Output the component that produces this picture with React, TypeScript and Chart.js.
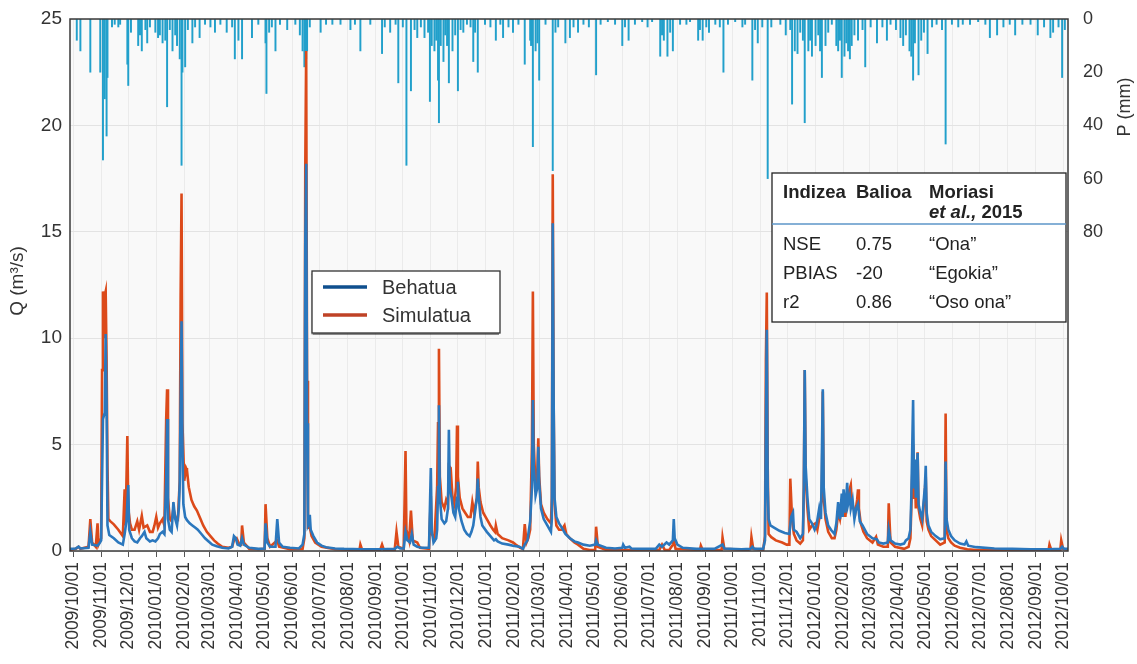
import React, { useEffect, useRef } from "react";
import { Chart, registerables } from "chart.js";

Chart.register(...registerables);

// ---- DATA (day index counted from 2009-10-01) ----
const monthLabels = [
  "2009/10/01", "2009/11/01", "2009/12/01",
  "2010/01/01", "2010/02/01", "2010/03/01", "2010/04/01", "2010/05/01", "2010/06/01",
  "2010/07/01", "2010/08/01", "2010/09/01", "2010/10/01", "2010/11/01", "2010/12/01",
  "2011/01/01", "2011/02/01", "2011/03/01", "2011/04/01", "2011/05/01", "2011/06/01",
  "2011/07/01", "2011/08/01", "2011/09/01", "2011/10/01", "2011/11/01", "2011/12/01",
  "2012/01/01", "2012/02/01", "2012/03/01", "2012/04/01", "2012/05/01", "2012/06/01",
  "2012/07/01", "2012/08/01", "2012/09/01", "2012/10/01",
];

const qTicks = [0, 5, 10, 15, 20, 25];
const pTicks = [0, 20, 40, 60, 80];

// Observed discharge (Behatua), [day, m3/s]
const observedQ: [number, number][] = [
  [-4, 0.1], [3, 0.12], [6, 0.2], [8, 0.12], [17, 0.15], [19, 0.9], [21, 0.3], [27, 0.25], [29, 0.35], [31, 0.5],
  [33, 6.2], [35, 6.5], [36, 10.2], [37, 7.2], [38, 1.2], [40, 0.75], [45, 0.6], [50, 0.4], [55, 0.3], [57, 0.8],
  [59, 1.4], [61, 3.1], [62, 1.0], [65, 0.6], [68, 0.45], [71, 0.4], [74, 0.6], [76, 0.7], [79, 0.9], [81, 0.6],
  [85, 0.45], [88, 0.5], [91, 0.45], [94, 0.6], [96, 0.8], [99, 0.9], [101, 0.8], [103, 3.3], [104, 6.2], [105, 1.5],
  [107, 1.0], [109, 0.9], [111, 2.3], [113, 1.5], [115, 1.2], [117, 2.0], [118, 3.2], [120, 10.8], [121, 5.0], [122, 2.2],
  [124, 1.6], [126, 1.45], [129, 1.3], [132, 1.2], [135, 1.1], [138, 1.0], [142, 0.8], [146, 0.6], [150, 0.45], [154, 0.3],
  [159, 0.22], [165, 0.15], [172, 0.12], [176, 0.2], [178, 0.7], [180, 0.6], [182, 0.3], [185, 0.25], [187, 0.6], [189, 0.3],
  [195, 0.15], [205, 0.1], [212, 0.12], [213, 1.3], [215, 0.4], [218, 0.2], [224, 0.2], [226, 1.5], [228, 0.4], [232, 0.2],
  [240, 0.15], [250, 0.12], [254, 0.3], [256, 0.8], [257, 14.5], [258, 18.2], [259, 6.0], [260, 1.2], [261, 1.3], [262, 1.7],
  [263, 1.0], [266, 0.7], [270, 0.4], [275, 0.25], [280, 0.18], [290, 0.12], [300, 0.1], [320, 0.08], [340, 0.08], [356, 0.1],
  [359, 0.2], [362, 0.12], [366, 0.12], [368, 0.9], [370, 0.5], [373, 0.4], [375, 0.8], [377, 0.3], [381, 0.2], [386, 0.15],
  [394, 0.15], [396, 3.9], [397, 1.0], [399, 0.4], [402, 0.6], [403, 1.0], [404, 3.0], [405, 6.85], [406, 2.5], [408, 1.5],
  [411, 1.3], [413, 1.4], [415, 2.0], [416, 5.7], [417, 3.0], [419, 2.5], [421, 1.8], [423, 1.6], [425, 2.5], [426, 3.25],
  [427, 2.0], [430, 1.4], [433, 1.0], [436, 0.8], [439, 0.7], [441, 0.9], [443, 1.2], [447, 2.5], [448, 3.4], [449, 2.6],
  [451, 1.6], [453, 1.2], [458, 0.9], [462, 0.7], [466, 0.5], [468, 0.55], [470, 0.45], [475, 0.35], [482, 0.3], [487, 0.25],
  [494, 0.2], [498, 0.1], [500, 0.3], [503, 0.5], [506, 1.4], [508, 3.0], [509, 7.1], [510, 4.0], [512, 2.6], [514, 3.0],
  [515, 4.9], [516, 3.2], [518, 2.0], [521, 1.5], [525, 1.2], [529, 0.9], [530, 1.5], [531, 15.4], [532, 7.0], [533, 2.5],
  [535, 1.6], [538, 1.3], [541, 1.1], [545, 0.8], [550, 0.6], [555, 0.45], [559, 0.4], [565, 0.3], [572, 0.25], [578, 0.3],
  [579, 0.5], [581, 0.3], [590, 0.15], [600, 0.12], [608, 0.15], [609, 0.3], [611, 0.15], [616, 0.2], [618, 0.12], [630, 0.1],
  [645, 0.1], [649, 0.3], [652, 0.2], [657, 0.4], [660, 0.3], [664, 0.5], [665, 1.5], [666, 0.6], [669, 0.3], [675, 0.15],
  [690, 0.1], [710, 0.1], [719, 0.3], [721, 0.12], [740, 0.08], [750, 0.1], [752, 0.2], [754, 0.1], [764, 0.1], [766, 0.5],
  [767, 6.0], [768, 10.4], [769, 3.0], [770, 1.5], [772, 1.2], [776, 1.1], [782, 0.95], [788, 0.85], [793, 0.8], [795, 1.6],
  [797, 1.8], [798, 1.0], [801, 0.9], [805, 0.6], [808, 0.8], [809, 3.0], [810, 8.5], [811, 4.0], [813, 2.5], [815, 1.5],
  [818, 1.3], [821, 1.0], [823, 1.2], [826, 2.0], [828, 1.5], [830, 7.6], [831, 3.0], [833, 1.8], [836, 1.2], [839, 1.0],
  [843, 0.8], [845, 1.3], [847, 2.3], [849, 1.5], [851, 2.7], [852, 1.6], [853, 2.9], [855, 1.8], [857, 3.2], [858, 2.2],
  [860, 2.6], [861, 2.0], [863, 2.4], [865, 1.5], [867, 2.0], [869, 2.2], [871, 1.4], [874, 1.2], [879, 0.8], [885, 0.6],
  [890, 0.55], [892, 0.4], [897, 0.35], [902, 0.4], [903, 1.0], [905, 0.5], [910, 0.35], [916, 0.3], [920, 0.35], [922, 0.5],
  [925, 0.6], [927, 1.0], [928, 2.5], [930, 7.1], [931, 3.0], [932, 4.3], [933, 2.5], [935, 4.6], [936, 2.2], [938, 1.8],
  [940, 1.5], [943, 3.0], [944, 4.0], [945, 1.8], [947, 1.2], [950, 0.9], [955, 0.7], [960, 0.55], [965, 0.6], [966, 4.2],
  [967, 1.5], [969, 1.0], [972, 0.7], [976, 0.5], [982, 0.35], [987, 0.3], [989, 0.45], [991, 0.25], [1000, 0.18], [1020, 0.12],
  [1040, 0.1], [1060, 0.08], [1080, 0.08], [1093, 0.1], [1095, 0.2], [1097, 0.1], [1103, 0.1],
];

// Simulated discharge (Simulatua), [day, m3/s]
const simulatedQ: [number, number][] = [
  [-4, 0.05], [3, 0.1], [6, 0.2], [8, 0.1], [17, 0.2], [19, 1.5], [21, 0.4], [25, 0.2], [27, 1.3], [28, 0.3],
  [31, 0.6], [32, 8.5], [33, 12.2], [34, 10.0], [35, 12.0], [36, 12.2], [37, 9.0], [38, 4.0], [39, 1.5], [41, 1.4],
  [45, 1.25], [50, 1.0], [55, 0.7], [57, 2.9], [58, 1.2], [60, 5.4], [61, 2.0], [63, 1.3], [65, 1.0], [68, 1.0],
  [71, 1.4], [73, 1.0], [76, 1.65], [78, 1.1], [82, 1.2], [85, 0.9], [88, 0.9], [90, 1.2], [92, 1.6], [94, 1.1],
  [96, 1.3], [99, 1.5], [101, 1.2], [103, 6.2], [104, 7.6], [105, 2.5], [107, 1.5], [109, 1.4], [111, 2.0], [113, 1.6],
  [116, 1.5], [118, 3.3], [119, 12.0], [120, 16.8], [121, 6.0], [123, 3.3], [125, 3.9], [126, 3.8], [128, 3.0], [131, 2.4],
  [134, 2.1], [137, 1.9], [141, 1.5], [144, 1.2], [148, 0.9], [152, 0.7], [156, 0.5], [160, 0.35], [165, 0.2], [172, 0.15],
  [176, 0.2], [178, 0.5], [181, 0.6], [184, 0.3], [186, 0.3], [187, 1.2], [189, 0.4], [195, 0.1], [205, 0.08], [212, 0.1],
  [213, 2.2], [215, 0.6], [218, 0.2], [226, 0.5], [228, 0.2], [240, 0.08], [254, 0.1], [256, 0.6], [257, 18.0], [258, 23.5],
  [259, 8.0], [260, 1.1], [262, 1.1], [264, 0.7], [268, 0.4], [275, 0.2], [290, 0.08], [317, 0.05], [318, 0.3], [320, 0.05],
  [340, 0.05], [342, 0.3], [344, 0.05], [356, 0.05], [358, 0.9], [360, 0.2], [366, 0.1], [368, 4.7], [369, 1.0], [372, 0.5],
  [374, 1.9], [376, 0.5], [381, 0.4], [384, 0.15], [394, 0.1], [396, 2.58], [397, 0.8], [400, 0.6], [403, 3.0], [404, 6.0],
  [405, 9.5], [406, 3.5], [408, 2.3], [411, 2.0], [413, 2.4], [415, 2.2], [416, 4.0], [418, 3.9], [420, 2.5], [422, 2.2],
  [424, 3.0], [425, 5.9], [426, 3.5], [428, 2.5], [431, 2.0], [434, 1.8], [437, 1.6], [440, 1.6], [442, 2.3], [444, 1.8],
  [447, 2.5], [448, 4.2], [449, 3.0], [451, 2.3], [454, 1.8], [458, 1.5], [462, 1.2], [465, 1.0], [467, 0.9], [468, 1.2],
  [470, 0.8], [475, 0.6], [482, 0.5], [487, 0.4], [490, 0.3], [495, 0.15], [498, 0.1], [500, 1.26], [502, 0.4], [504, 0.6],
  [506, 1.0], [508, 5.0], [509, 12.2], [510, 5.0], [512, 3.0], [514, 3.8], [515, 5.3], [516, 3.5], [518, 2.2], [521, 1.8],
  [525, 1.5], [529, 1.3], [530, 2.5], [531, 17.7], [532, 7.0], [533, 2.2], [535, 1.2], [538, 1.0], [541, 1.0], [544, 1.2],
  [546, 0.8], [550, 0.6], [555, 0.4], [559, 0.3], [565, 0.1], [572, 0.05], [578, 0.05], [579, 1.14], [581, 0.2], [590, 0.05],
  [649, 0.05], [652, 0.3], [655, 0.05], [660, 0.05], [664, 0.3], [665, 0.5], [667, 0.1], [694, 0.05], [695, 0.25], [697, 0.05],
  [718, 0.05], [719, 0.64], [721, 0.1], [747, 0.05], [750, 0.1], [751, 0.65], [753, 0.1], [764, 0.05], [766, 0.7], [767, 9.0],
  [768, 12.15], [769, 4.0], [770, 0.8], [773, 0.65], [778, 0.5], [785, 0.4], [790, 0.3], [793, 0.3], [794, 3.4], [796, 1.5],
  [798, 0.8], [801, 0.5], [805, 0.35], [808, 0.5], [809, 3.0], [810, 8.5], [811, 3.5], [813, 2.0], [815, 1.0], [818, 1.2],
  [822, 1.3], [824, 1.0], [826, 1.5], [829, 2.5], [830, 7.5], [831, 2.5], [833, 1.5], [836, 0.9], [840, 0.6], [843, 0.6],
  [845, 1.0], [847, 1.8], [849, 1.5], [851, 2.2], [853, 2.5], [855, 1.6], [857, 2.6], [859, 2.8], [861, 3.1], [862, 2.4],
  [864, 2.0], [866, 1.8], [868, 2.4], [869, 2.9], [870, 2.0], [872, 1.3], [875, 0.9], [879, 0.6], [885, 0.4], [889, 0.67],
  [891, 0.3], [897, 0.2], [902, 0.2], [903, 2.24], [905, 0.4], [910, 0.2], [920, 0.1], [925, 0.2], [927, 0.6], [928, 2.0],
  [930, 5.0], [931, 2.5], [932, 3.5], [933, 2.0], [935, 4.64], [936, 2.0], [938, 1.5], [940, 1.2], [943, 2.8], [944, 3.5],
  [945, 1.4], [947, 1.0], [950, 0.7], [955, 0.5], [960, 0.3], [965, 0.4], [966, 6.46], [967, 1.0], [969, 0.6], [972, 0.4],
  [976, 0.25], [982, 0.15], [990, 0.08], [1000, 0.05], [1080, 0.05], [1081, 0.3], [1083, 0.05], [1093, 0.05], [1094, 0.5], [1096, 0.1],
  [1103, 0.05],
];

// Precipitation (P), [day, mm]
const precipitation: [number, number][] = [
  [4, 8], [8, 12], [19, 20], [30, 20], [33, 53], [35, 30], [37, 44], [38, 22], [43, 3], [46, 2],
  [50, 3], [52, 2], [60, 17], [61, 25], [64, 5], [72, 10], [74, 6], [76, 12], [80, 4], [82, 9],
  [85, 3], [91, 5], [94, 7], [96, 6], [99, 9], [102, 8], [104, 33], [107, 4], [110, 12], [113, 6],
  [115, 10], [118, 15], [120, 55], [121, 20], [124, 18], [127, 4], [132, 9], [135, 3], [140, 7], [146, 2],
  [152, 3], [157, 5], [163, 2], [170, 5], [176, 3], [179, 15], [183, 8], [187, 15], [198, 7], [205, 2],
  [213, 9], [214, 28], [217, 5], [220, 3], [224, 12], [229, 2], [237, 4], [246, 2], [251, 6], [254, 12],
  [256, 18], [257, 16], [258, 15], [259, 12], [262, 3], [274, 5], [280, 2], [287, 2], [296, 2], [307, 4],
  [312, 2], [318, 12], [329, 2], [342, 13], [345, 3], [351, 5], [357, 2], [360, 24], [365, 3], [369, 55],
  [374, 27], [378, 4], [381, 7], [385, 3], [389, 7], [393, 5], [395, 31], [397, 10], [400, 12], [402, 8],
  [404, 23], [405, 39], [407, 10], [410, 16], [412, 6], [414, 10], [416, 24], [420, 12], [423, 6], [426, 27],
  [429, 4], [432, 5], [436, 2], [440, 3], [443, 16], [445, 5], [448, 20], [456, 2], [462, 3], [468, 8],
  [473, 2], [476, 7], [482, 3], [487, 5], [493, 2], [500, 17], [506, 8], [507, 10], [509, 48], [512, 12],
  [514, 9], [516, 23], [523, 2], [531, 57], [534, 5], [537, 3], [545, 9], [550, 7], [554, 3], [559, 5],
  [565, 2], [571, 3], [579, 21], [584, 2], [592, 1], [600, 2], [608, 10], [611, 3], [615, 8], [622, 2],
  [630, 1], [636, 3], [641, 1], [650, 14], [652, 6], [654, 8], [658, 14], [661, 5], [664, 12], [672, 2],
  [679, 2], [683, 1], [692, 8], [694, 4], [697, 8], [701, 3], [704, 5], [711, 2], [716, 3], [720, 20],
  [725, 2], [733, 1], [741, 3], [744, 2], [752, 23], [755, 4], [758, 9], [763, 3], [769, 60], [773, 3],
  [783, 2], [789, 6], [794, 4], [796, 32], [799, 12], [802, 13], [805, 5], [808, 8], [810, 39], [814, 12],
  [816, 8], [818, 14], [822, 10], [825, 6], [827, 12], [829, 22], [833, 10], [836, 5], [840, 2], [845, 10],
  [847, 12], [849, 8], [851, 22], [854, 14], [856, 9], [858, 12], [860, 15], [862, 10], [865, 6], [869, 8],
  [874, 4], [877, 18], [883, 3], [890, 9], [896, 3], [901, 8], [905, 2], [911, 4], [916, 7], [919, 10],
  [922, 6], [926, 12], [928, 14], [930, 23], [932, 9], [936, 21], [939, 8], [942, 5], [946, 13], [951, 3],
  [956, 2], [962, 4], [966, 47], [973, 2], [980, 3], [985, 2], [993, 2], [1002, 1], [1010, 2], [1015, 7],
  [1023, 6], [1030, 3], [1037, 2], [1043, 6], [1051, 2], [1060, 2], [1068, 6], [1075, 3], [1082, 7], [1085, 5],
  [1091, 3], [1095, 22], [1098, 4],
];

const seriesNames = ["Behatua", "Simulatua"];
const tableHeader = ["Indizea", "Balioa", "Moriasi"];
const tableIndices = ["NSE", "PBIAS", "r2"];
const tableValues = ["0.75", "-20", "0.86"];
const tableRatings = ["\u201cOna\u201d", "\u201cEgokia\u201d", "\u201cOso ona\u201d"];

const FONT = "'Liberation Sans', Arial, Helvetica, sans-serif";
const BLUE = "#2b77bd";
const RED = "#dc4a1a";

const dayOf = (label: string) => {
  const [y, m, d] = label.split("/").map(Number);
  return Math.round((Date.UTC(y, m - 1, d) - Date.UTC(2009, 9, 1)) / 86400000);
};
const monthDays = monthLabels.map(dayOf);

const decorPlugin = {
  id: "decor",
  beforeDraw(chart: any) {
    const { ctx, chartArea: a } = chart;
    ctx.save();
    ctx.fillStyle = "#ffffff";
    ctx.fillRect(0, 0, chart.width, chart.height);
    ctx.fillStyle = "#f9f9f9";
    ctx.fillRect(a.left, a.top, a.right - a.left, a.bottom - a.top);
    ctx.restore();
  },
  afterDraw(chart: any) {
    const { ctx, chartArea: a } = chart;
    ctx.save();
    // frame
    ctx.strokeStyle = "#3a3a3a";
    ctx.lineWidth = 1.5;
    ctx.strokeRect(a.left, a.top, a.right - a.left, a.bottom - a.top);

    // axis titles
    ctx.fillStyle = "#333";
    ctx.textAlign = "center";
    ctx.textBaseline = "middle";
    ctx.font = `19px ${FONT}`;
    ctx.save();
    ctx.translate(18, 281);
    ctx.rotate(-Math.PI / 2);
    ctx.fillText("Q (m\u00b3/s)", 0, 0);
    ctx.restore();
    ctx.font = `18px ${FONT}`;
    ctx.save();
    ctx.translate(1125, 107);
    ctx.rotate(-Math.PI / 2);
    ctx.fillText("P (mm)", 0, 0);
    ctx.restore();

    // legend box
    const lx = a.left + 242, ly = a.top + 252, lw = 188, lh = 62;
    ctx.save();
    ctx.shadowColor = "rgba(0,0,0,0.45)";
    ctx.shadowOffsetX = -1.5;
    ctx.shadowOffsetY = 1.5;
    ctx.shadowBlur = 1;
    ctx.fillStyle = "#ffffff";
    ctx.fillRect(lx, ly, lw, lh);
    ctx.restore();
    ctx.strokeStyle = "#333";
    ctx.lineWidth = 1.3;
    ctx.strokeRect(lx, ly, lw, lh);
    const legendColors = ["#0f4f8e", "#bf4226"];
    seriesNames.forEach((name, i) => {
      const yy = ly + 16 + i * 28;
      ctx.strokeStyle = legendColors[i];
      ctx.lineWidth = 3.5;
      ctx.beginPath();
      ctx.moveTo(lx + 11, yy);
      ctx.lineTo(lx + 55, yy);
      ctx.stroke();
      ctx.fillStyle = "#333";
      ctx.font = `20px ${FONT}`;
      ctx.textAlign = "left";
      ctx.textBaseline = "middle";
      ctx.fillText(name, lx + 70, yy + 1);
    });

    // table box
    const tx = 772, ty = 173, tw = 294, th = 149;
    ctx.fillStyle = "#ffffff";
    ctx.fillRect(tx, ty, tw, th);
    ctx.strokeStyle = "#222";
    ctx.lineWidth = 1.3;
    ctx.strokeRect(tx, ty, tw, th);
    const cols = [tx + 11, tx + 84, tx + 157];
    ctx.fillStyle = "#222";
    ctx.textAlign = "left";
    ctx.textBaseline = "middle";
    ctx.font = `bold 18.5px ${FONT}`;
    tableHeader.forEach((h, i) => ctx.fillText(h, cols[i], ty + 20));
    ctx.font = `italic bold 18.5px ${FONT}`;
    const etal = "et al.,";
    ctx.fillText(etal, cols[2], ty + 40);
    const w = ctx.measureText(etal).width;
    ctx.font = `bold 18.5px ${FONT}`;
    ctx.fillText(" 2015", cols[2] + w, ty + 40);
    ctx.strokeStyle = "#5d96c8";
    ctx.lineWidth = 1.5;
    ctx.beginPath();
    ctx.moveTo(tx, ty + 51);
    ctx.lineTo(tx + tw, ty + 51);
    ctx.stroke();
    ctx.font = `18.5px ${FONT}`;
    ctx.fillStyle = "#222";
    tableIndices.forEach((name, i) => {
      const yy = ty + 72 + i * 29;
      ctx.fillText(name, cols[0], yy);
      ctx.fillText(tableValues[i], cols[1], yy);
      ctx.fillText(tableRatings[i], cols[2], yy);
    });
    ctx.restore();
  },
};

export default function App() {
  const ref = useRef<HTMLCanvasElement | null>(null);
  useEffect(() => {
    if (!ref.current) return;
    const chart = new Chart(ref.current, {
      type: "line",
      data: {
        datasets: [
          {
            type: "line",
            label: seriesNames[0],
            data: observedQ.map(([x, y]) => ({ x, y })),
            borderColor: BLUE,
            borderWidth: 2.6,
            pointRadius: 0,
            tension: 0,
            yAxisID: "y",
            order: 0,
          },
          {
            type: "line",
            label: seriesNames[1],
            data: simulatedQ.map(([x, y]) => ({ x, y })),
            borderColor: RED,
            borderWidth: 2.6,
            pointRadius: 0,
            tension: 0,
            yAxisID: "y",
            order: 1,
          },
          {
            type: "bar",
            label: "P",
            data: precipitation.map(([x, y]) => ({ x, y })),
            backgroundColor: "#22a0cb",
            borderWidth: 0,
            barThickness: 1.3,
            yAxisID: "y2",
            order: 2,
          } as any,
        ],
      },
      options: {
        responsive: false,
        animation: false,
        events: [],
        layout: { padding: { top: 19, left: 0, right: 0, bottom: 0 } },
        plugins: { legend: { display: false }, tooltip: { enabled: false } },
        scales: {
          x: {
            type: "linear",
            min: -3.5,
            max: 1101.5,
            offset: false,
            afterBuildTicks: (scale: any) => {
              scale.ticks = monthDays.map((v) => ({ value: v }));
            },
            afterFit: (scale: any) => {
              scale.height = 113;
              scale.paddingLeft = 0;
              scale.paddingRight = 0;
            },
            ticks: {
              autoSkip: false,
              minRotation: 90,
              maxRotation: 90,
              padding: 5,
              color: "#333",
              font: { family: FONT, size: 17.5 },
              callback: (_v: any, i: number) => monthLabels[i],
            },
            grid: {
              color: "#ebebeb",
              lineWidth: 1,
              tickColor: "#555",
              tickLength: 6,
              offset: false,
            },
            border: { display: false },
          },
          y: {
            type: "linear",
            position: "left",
            min: 0,
            max: 25,
            afterBuildTicks: (scale: any) => {
              scale.ticks = qTicks.map((v) => ({ value: v }));
            },
            afterFit: (scale: any) => {
              scale.width = 70;
              scale.paddingTop = 0;
              scale.paddingBottom = 0;
            },
            ticks: {
              padding: 8,
              color: "#333",
              font: { family: FONT, size: 19 },
            },
            grid: { color: "#e3e3e3", lineWidth: 1, drawTicks: false },
            border: { display: false },
          },
          y2: {
            type: "linear",
            position: "right",
            reverse: true,
            min: 0,
            max: 200,
            afterBuildTicks: (scale: any) => {
              scale.ticks = pTicks.map((v) => ({ value: v }));
            },
            afterFit: (scale: any) => {
              scale.width = 69;
              scale.paddingTop = 0;
              scale.paddingBottom = 0;
            },
            ticks: {
              padding: 15,
              color: "#333",
              font: { family: FONT, size: 18 },
            },
            grid: { display: false, drawTicks: false },
            border: { display: false },
          },
        },
      },
      plugins: [decorPlugin],
    } as any);
    return () => chart.destroy();
  }, []);
  return (
    <div style={{ position: "absolute", left: 0, top: 0, width: 1137, height: 664 }}>
      <canvas ref={ref} width={1137} height={664} style={{ display: "block" }} />
    </div>
  );
}
